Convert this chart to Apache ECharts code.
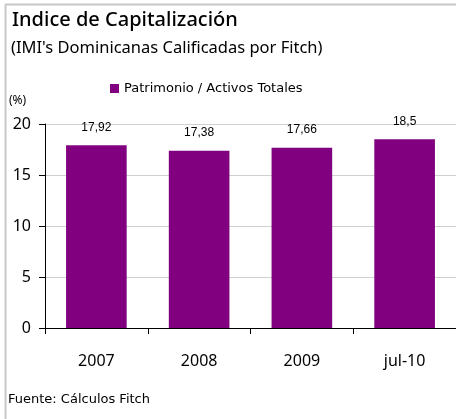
<!DOCTYPE html>
<html><head><meta charset="utf-8">
<script src="https://cdn.jsdelivr.net/npm/echarts@6/dist/echarts.min.js"></script>
<style>html,body{margin:0;padding:0;background:#fff}#c{width:456px;height:419px}</style>
</head><body><div id="c"></div>
<script>
const categories = ['2007', '2008', '2009', 'jul-10'];
const values = [17.92, 17.38, 17.66, 18.5];
const valueLabels = ['17,92', '17,38', '17,66', '18,5'];
const seriesName = 'Patrimonio / Activos Totales';
const yTicks = [0, 5, 10, 15, 20];

const chart = echarts.init(document.getElementById('c'));
chart.setOption({
  animation: false,
  backgroundColor: '#fff',
  graphic: [
    {type: 'line', shape: {x1: 5.5, y1: 4.5, x2: 5.5, y2: 419}, style: {stroke: '#c8c8c8', lineWidth: 2}},
    {type: 'line', shape: {x1: 5, y1: 4.5, x2: 456, y2: 4.5}, style: {stroke: '#c8c8c8', lineWidth: 2}},
    {type: 'text', left: 12, top: 10, style: {text: 'Indice de Capitalización', font: '500 20px "Noto Sans"', fill: '#000'}},
    {type: 'text', left: 11, top: 40, style: {text: "(IMI's Dominicanas Calificadas por Fitch)", font: '16.5px "Noto Sans"', fill: '#000'}},
    {type: 'text', left: 9, top: 95, style: {text: '(%)', font: '12px "Noto Sans"', fill: '#000'}},
    {type: 'text', left: 8, top: 393, style: {text: 'Fuente: Cálculos Fitch', font: '13px "DejaVu Sans"', fill: '#000'}}
  ],
  legend: {
    left: 105, top: 77, itemWidth: 9, itemHeight: 9, itemGap: 5,
    icon: 'rect',
    textStyle: {fontFamily: 'DejaVu Sans', fontSize: 13, color: '#000'},
    data: [seriesName]
  },
  grid: {left: 45, right: -5, top: 124, bottom: 91, containLabel: false},
  xAxis: {
    type: 'category', data: categories,
    axisLine: {show: true, lineStyle: {color: '#000'}},
    axisTick: {show: true, length: 6, lineStyle: {color: '#000'}},
    axisLabel: {margin: 25, fontFamily: 'Noto Sans', fontSize: 16, color: '#000'}
  },
  yAxis: {
    type: 'value', min: 0, max: 20, interval: 5,
    axisLine: {show: true, lineStyle: {color: '#000'}},
    axisTick: {show: true, length: 6, lineStyle: {color: '#000'}},
    splitLine: {lineStyle: {color: '#d0d0d0'}},
    axisLabel: {margin: 14, fontFamily: 'Noto Sans', fontSize: 16, color: '#000',
      formatter: v => yTicks.includes(v) ? String(v) : ''}
  },
  series: [{
    name: seriesName, type: 'bar', data: values, barWidth: '59%',
    itemStyle: {color: '#800080'},
    label: {show: true, position: 'top', distance: 12, fontFamily: 'Liberation Sans', fontSize: 12, color: '#000',
      formatter: p => valueLabels[p.dataIndex]}
  }]
});
</script></body></html>
